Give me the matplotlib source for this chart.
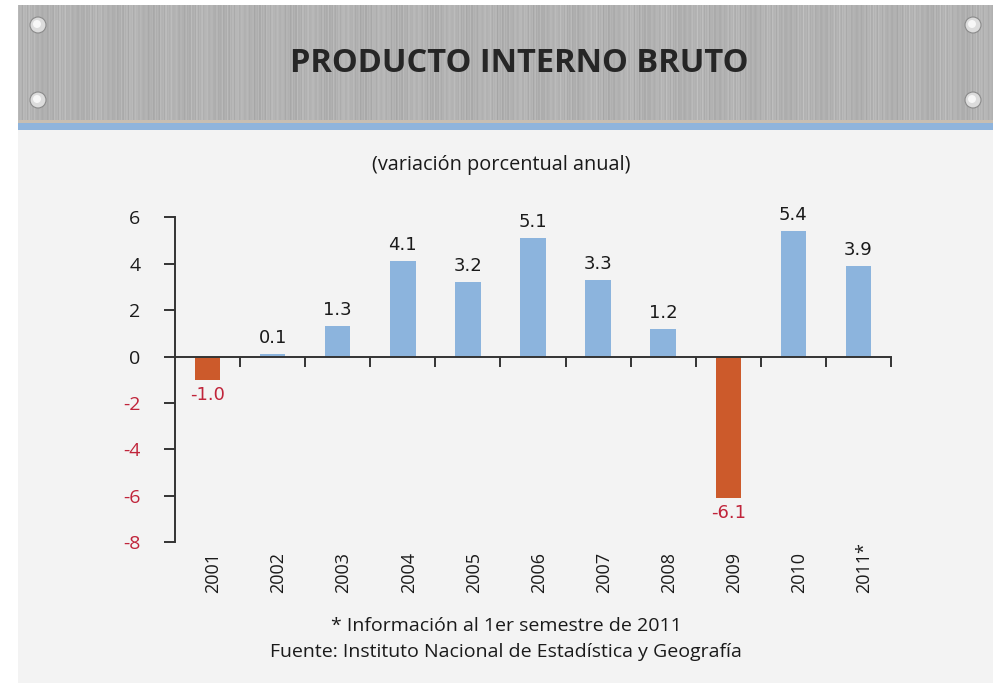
import numpy as np
import matplotlib
matplotlib.use("Agg")
import matplotlib.pyplot as plt
from matplotlib.patches import Rectangle, Circle
from matplotlib.transforms import blended_transform_factory

years = ["2001", "2002", "2003", "2004", "2005", "2006", "2007", "2008", "2009", "2010", "2011*"]
values = [-1.0, 0.1, 1.3, 4.1, 3.2, 5.1, 3.3, 1.2, -6.1, 5.4, 3.9]
yticks = [6, 4, 2, 0, -2, -4, -6, -8]

BLUE = "#8cb4dd"
ORANGE = "#cc5a2b"
RED = "#c0243a"
BG = "#f3f3f3"
AX = "#333333"

W, H = 996, 685
fig = plt.figure(figsize=(W / 100, H / 100), dpi=100)
fig.patch.set_facecolor("white")

def fx(px):
    return px / W

def fy(py):
    return 1 - py / H

# background axes in pixel coords (y downward)
bg = fig.add_axes([0, 0, 1, 1], zorder=-5)
bg.axis("off")
bg.add_patch(Rectangle((18, 5), 975, 678, facecolor=BG, edgecolor="none", zorder=0))
hx = np.linspace(0, 1, 975)
streak = (0.70 + 0.018 * np.sin(hx * 1210) + 0.015 * np.sin(hx * 2370 + 1.3)
          + 0.015 * np.sin(hx * 3930 + 0.7) + 0.012 * np.sin(hx * 173))
img = np.tile(streak, (116, 1))
bg.imshow(img, cmap="gray", vmin=0, vmax=1, aspect="auto", interpolation="bilinear",
          extent=(18, 993, 121, 5), zorder=1)
bg.add_patch(Rectangle((18, 119.5), 975, 3, facecolor="#c7beb2", edgecolor="none", zorder=2))
bg.add_patch(Rectangle((18, 122.5), 975, 7, facecolor="#8fb4dc", edgecolor="none", zorder=2))
for (sx, sy) in [(38, 25), (38, 100), (973, 25), (973, 100)]:
    bg.add_patch(Circle((sx, sy), 8, facecolor="#dcdcdc", edgecolor="#8a8a8a", linewidth=0.8, zorder=3))
    bg.add_patch(Circle((sx - 1, sy - 1), 4, facecolor="#f7f7f7", edgecolor="none", zorder=4))
bg.set_xlim(0, W)
bg.set_ylim(H, 0)

fig.text(fx(519), fy(64), "PRODUCTO INTERNO BRUTO", ha="center", va="center",
         fontsize=23.5, fontweight="bold", family="Open Sans", color="#262626")
fig.text(0.503, fy(165), "(variación porcentual anual)", ha="center", va="center",
         fontsize=14.3, family="Open Sans", color="#1a1a1a")
fig.text(0.508, fy(626), "* Información al 1er semestre de 2011", ha="center", va="center",
         fontsize=14, family="Open Sans", color="#1a1a1a")
fig.text(0.508, fy(652), "Fuente: Instituto Nacional de Estadística y Geografía", ha="center", va="center",
         fontsize=14, family="Open Sans", color="#1a1a1a")

# main axes
ax = fig.add_axes([fx(175), fy(542.3), fx(716), (542.3 - 217.3) / H], zorder=2)
ax.set_facecolor("none")
x = np.arange(len(years))
colors = [ORANGE if v < 0 else BLUE for v in values]
ax.bar(x, values, width=0.39, color=colors, zorder=2)
ax.set_xlim(-0.5, len(years) - 0.5)
ax.set_ylim(-8, 6)

for s in ["top", "right"]:
    ax.spines[s].set_visible(False)
ax.spines["bottom"].set_position(("data", 0))
ax.spines["bottom"].set_color(AX)
ax.spines["left"].set_color(AX)
ax.spines["bottom"].set_linewidth(1.4)
ax.spines["left"].set_linewidth(1.4)
ax.spines["bottom"].set_zorder(3)

ax.set_xticks(np.arange(len(years)) + 0.5)
ax.set_xticklabels([])
ax.tick_params(axis="x", direction="out", length=7, width=1.4, color=AX)
ax.set_yticks(yticks)
ax.set_yticklabels([str(t) for t in yticks], family="Open Sans", fontsize=14)
ax.tick_params(axis="y", direction="out", length=8, width=1.4, color=AX, pad=17)
for lab, t in zip(ax.get_yticklabels(), yticks):
    lab.set_color(RED if t < 0 else "#1a1a1a")

trans = blended_transform_factory(ax.transData, ax.transAxes)
for xi, yr in zip(x, years):
    ax.text(xi + 0.09, -0.156, yr, transform=trans, rotation=90, ha="center", va="bottom",
            fontsize=13, family="Open Sans", color="#1a1a1a")

for xi, v in zip(x, values):
    if v >= 0:
        ax.text(xi, v + 0.3, f"{v:.1f}", ha="center", va="bottom", fontsize=13,
                family="DejaVu Sans", color="#1a1a1a")
    else:
        ax.text(xi, v - 0.25, f"{v:.1f}", ha="center", va="top", fontsize=13,
                family="DejaVu Sans", color=RED)

fig.savefig("out.png", dpi=100, facecolor=fig.get_facecolor())
